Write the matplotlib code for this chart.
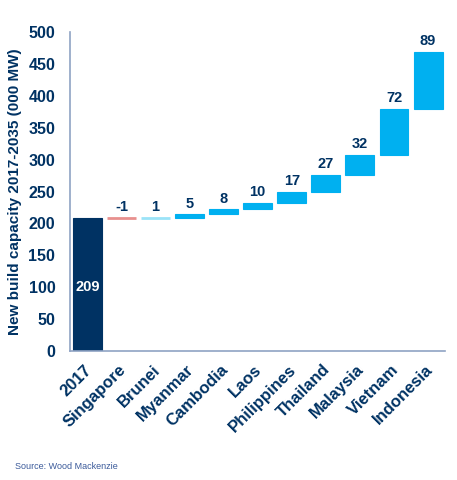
import matplotlib
matplotlib.use("Agg")
import matplotlib.pyplot as plt
import numpy as np

plt.rcParams['font.family'] = ['Liberation Sans', 'DejaVu Sans']

categories = ["2017", "Singapore", "Brunei", "Myanmar", "Cambodia", "Laos",
              "Philippines", "Thailand", "Malaysia", "Vietnam", "Indonesia"]
values = [209, -1, 1, 5, 8, 10, 17, 27, 32, 72, 89]
yticks = [0, 50, 100, 150, 200, 250, 300, 350, 400, 450, 500]

navy = "#003263"
blue = "#00B0F0"
light = "#9BE3F8"
red = "#E8908E"
spine = "#8FA3C4"

fig = plt.figure(figsize=(4.57, 4.8), dpi=100)
ax = fig.add_axes([0.153, 0.269, 0.821, 0.664])

x = np.arange(len(categories))
bottoms = []
heights = []
colors = []
cum = 0
for i, v in enumerate(values):
    if i == 0:
        bottoms.append(0); heights.append(v); colors.append(navy)
        cum = v
    else:
        if v < 0:
            bottoms.append(cum + v); heights.append(-v); colors.append(red)
        else:
            bottoms.append(cum); heights.append(v)
            colors.append(light if v == 1 else blue)
        cum += v

lws = [2.0 if abs(v) <= 1 else 0.8 for v in values]
ax.bar(x, heights, bottom=bottoms, width=0.85, color=colors,
       edgecolor=colors, linewidth=lws)

for i, v in enumerate(values):
    if i == 0:
        ax.text(x[i], 100, str(v), ha="center", va="center", color="white",
                fontsize=10.5, fontweight="bold")
    else:
        top = bottoms[i] + heights[i]
        ax.text(x[i], top + 6, str(v), ha="center", va="bottom", color=navy,
                fontsize=10.5, fontweight="bold")

ax.set_xlim(-0.51, 10.5)
ax.set_ylim(0, 500)
ax.set_yticks(yticks)
ax.set_yticklabels([str(t) for t in yticks], fontsize=11.5, fontweight="bold", color=navy)
ax.set_xticks(x - 0.1)
ax.set_xticklabels(categories, rotation=45, ha="right", rotation_mode="anchor",
                   fontsize=12, fontweight="bold", color=navy)
ax.tick_params(axis="y", length=0, pad=10.5)
ax.tick_params(axis="x", length=0, pad=8)
ax.set_ylabel("New build capacity 2017-2035 (000 MW)", fontsize=11,
              fontweight="bold", color=navy)
ax.yaxis.set_label_coords(-0.128, 0.5)

for s in ["top", "right"]:
    ax.spines[s].set_visible(False)
for s in ["left", "bottom"]:
    ax.spines[s].set_color(spine)
    ax.spines[s].set_linewidth(1.2)

fig.text(0.033, 0.022, "Source: Wood Mackenzie", fontsize=6.5, color="#3B5A9A")

fig.savefig("out.png", dpi=100)
